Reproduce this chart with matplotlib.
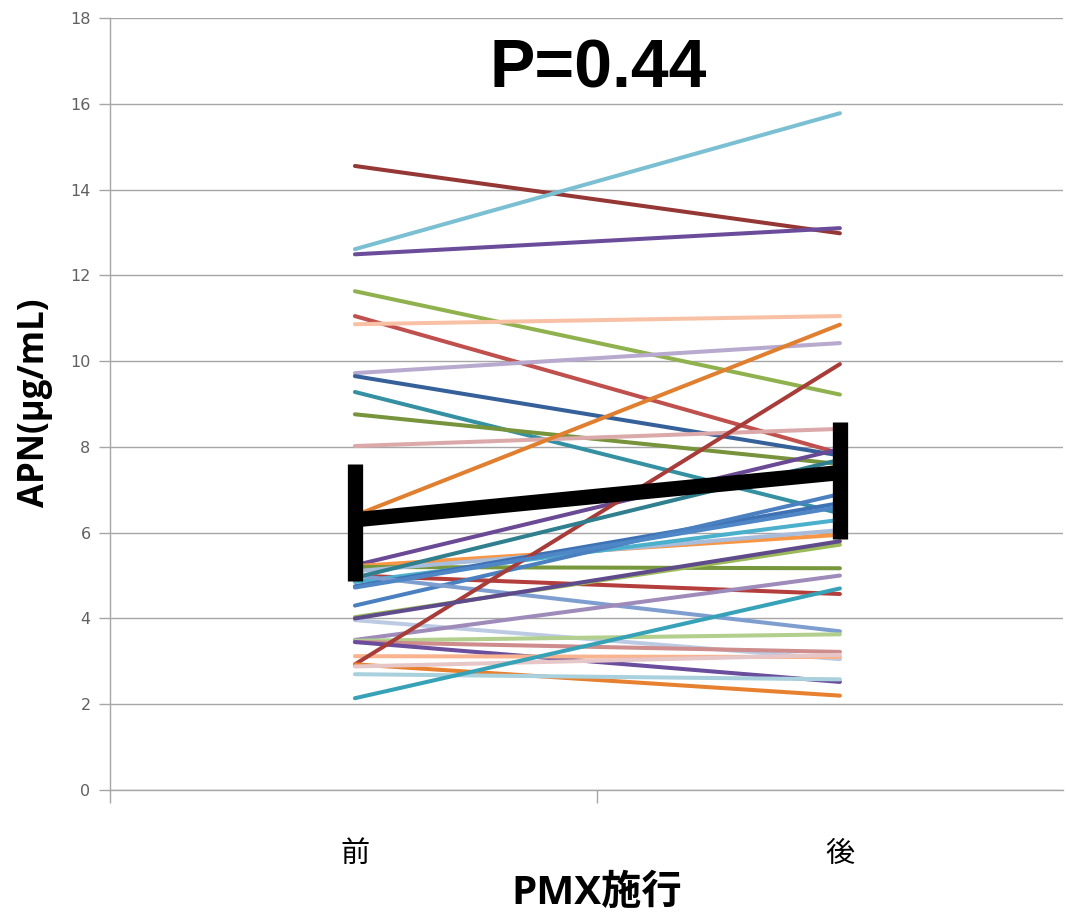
import matplotlib
matplotlib.use('Agg')
import matplotlib.pyplot as plt

plt.rcParams['font.family'] = ['Liberation Sans', 'Noto Sans CJK JP', 'DejaVu Sans']

# category labels
groups = ['前', '後']

# individual patients: value before / after PMX
before = [14.55, 12.61, 12.49, 11.63, 11.05, 10.86, 9.72, 9.65, 9.28, 8.76,
          8.02, 6.40, 5.24, 5.22, 5.20, 5.10, 5.00, 4.85, 4.75, 4.30,
          4.03, 3.96, 5.00, 3.50, 3.48, 3.45, 3.45, 3.12, 2.93, 2.93,
          2.88, 2.70, 2.14, 4.95, 4.00, 4.72]
after = [12.98, 15.78, 13.10, 9.22, 7.85, 11.05, 10.42, 7.80, 6.45, 7.60,
         8.42, 10.85, 7.95, 5.95, 5.17, 6.06, 4.57, 6.30, 6.69, 6.90,
         5.72, 3.05, 3.70, 5.00, 3.63, 3.22, 2.52, 3.10, 9.93, 2.20,
         3.15, 2.58, 4.70, 7.70, 5.80, 6.60]
colors = ['#953735', '#7BBFD3', '#6B4C9A', '#8FB24E', '#C0504D', '#F8C1A6',
          '#B8A9CF', '#35609A', '#3591A2', '#77933C', '#DBA9A9', '#E07F30',
          '#6A4A94', '#F79646', '#77973D', '#A8BCDC', '#B43E3B', '#4BB0CB',
          '#3E72B5', '#4A80C0', '#9BBB59', '#BCCBE3', '#7F9ED0', '#9F8BBA',
          '#B2CF8E', '#CF8C8C', '#6A4D9C', '#F9B38E', '#A73C39', '#E8812F',
          '#E6C6C6', '#A8D0DD', '#37A2B7', '#2F7F8E', '#5F4B8B', '#4F86C6']

# mean and error bar ends
mean = [6.30, 7.40]
err_lo = [4.87, 5.85]
err_hi = [7.60, 8.57]

fig = plt.figure(figsize=(10.68, 9.16), dpi=100)
ax = fig.add_axes([110 / 1068, 126 / 916, 953 / 1068, 772 / 916])

xs = [0, 1]
for b, a, c in zip(before, after, colors):
    ax.plot(xs, [b, a], color=c, lw=2.9, solid_capstyle='round', zorder=3)

ax.plot(xs, mean, color='black', lw=11, solid_capstyle='butt', zorder=5)
ax.vlines(xs, err_lo, err_hi, color='black', lw=11, zorder=5)

ax.set_xlim(-0.505, 1.46)
ax.set_ylim(0, 18)
ax.set_yticks(range(0, 19, 2))
ax.yaxis.grid(True, color='#A6A6A6', lw=1.0)
ax.set_axisbelow(True)

ax.set_xticks([-0.505, 0.5])
ax.set_xticklabels([])
ax.tick_params(axis='x', length=9, width=1.0, color='#A6A6A6', direction='out')
ax.tick_params(axis='y', length=8, width=1.0, color='#A6A6A6', direction='out',
               labelsize=11.5, labelcolor='#606060', pad=6)
for lbl in ax.get_yticklabels():
    lbl.set_family('DejaVu Sans')

for s in ['top', 'right']:
    ax.spines[s].set_visible(False)
for s in ['left', 'bottom']:
    ax.spines[s].set_color('#A6A6A6')
    ax.spines[s].set_linewidth(1.0)

for x, g in zip(xs, groups):
    ax.text(x, -1.5, g, ha='center', va='center', fontsize=21,
            family=['Noto Sans CJK JP'], transform=ax.transData)

fig.text(597 / 1068, 1 - 893 / 916, 'PMX施行', ha='center', va='center',
         fontsize=29, fontweight='bold', family=['Open Sans', 'Noto Sans CJK JP'])
fig.text(35 / 1068, 1 - 403 / 916, 'APN(μg/mL)', ha='center', va='center',
         rotation=90, fontsize=25, fontweight='bold', family=['Open Sans', 'DejaVu Sans'])
fig.text(598 / 1068, 1 - 70 / 916, 'P=0.44', ha='center', va='center',
         fontsize=49, fontweight='bold', family=['Liberation Sans'])

fig.savefig('out.png', dpi=100)
